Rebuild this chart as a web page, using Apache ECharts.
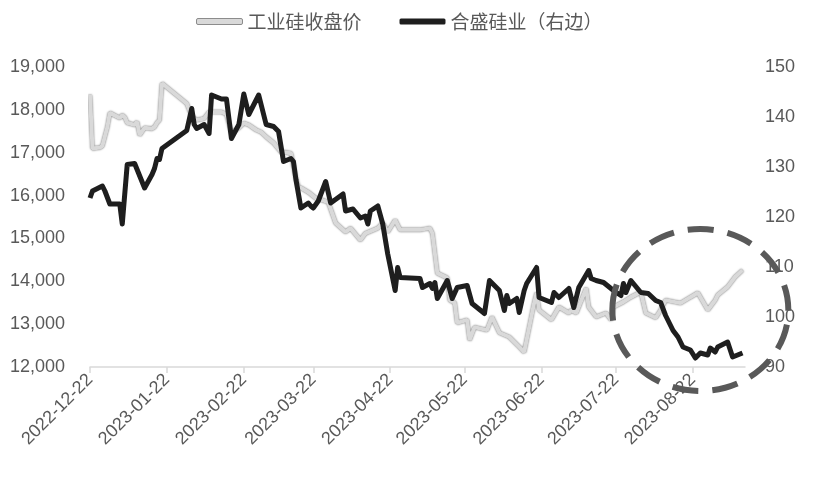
<!DOCTYPE html>
<html>
<head>
<meta charset="utf-8">
<script src="https://cdn.jsdelivr.net/npm/echarts@6/dist/echarts.min.js"></script>
<style>
html,body{margin:0;padding:0;background:#fff;}
#chart{width:813px;height:479px;}
</style>
</head>
<body>
<div id="chart"></div>
<script>
// ---- Data ----
const seriesNames = ['工业硅收盘价', '合盛硅业（右边）'];
const tickDates = ['2022-12-22','2023-01-22','2023-02-22','2023-03-22','2023-04-22','2023-05-22','2023-06-22','2023-07-22','2023-08-22'];
const axisStart = '2022-12-22';
const axisEnd = '2023-09-12';

const siliconDates = ['2022-12-22','2022-12-23','2022-12-26','2022-12-27','2022-12-29','2022-12-30','2023-01-03','2023-01-04','2023-01-05','2023-01-06','2023-01-09','2023-01-10','2023-01-11','2023-01-13','2023-01-16','2023-01-17','2023-01-18','2023-01-19','2023-01-20','2023-01-30','2023-01-31','2023-02-01','2023-02-03','2023-02-06','2023-02-08','2023-02-10','2023-02-13','2023-02-15','2023-02-17','2023-02-20','2023-02-22','2023-02-24','2023-02-27','2023-03-01','2023-03-03','2023-03-06','2023-03-09','2023-03-13','2023-03-15','2023-03-16','2023-03-17','2023-03-20','2023-03-23','2023-03-28','2023-03-31','2023-04-04','2023-04-06','2023-04-10','2023-04-12','2023-04-17','2023-04-19','2023-04-21','2023-04-24','2023-04-26','2023-05-04','2023-05-08','2023-05-09','2023-05-11','2023-05-15','2023-05-16','2023-05-18','2023-05-19','2023-05-23','2023-05-24','2023-05-26','2023-05-31','2023-06-02','2023-06-05','2023-06-09','2023-06-13','2023-06-15','2023-06-19','2023-06-20','2023-06-21','2023-06-26','2023-06-29','2023-07-03','2023-07-04','2023-07-06','2023-07-10','2023-07-11','2023-07-14','2023-07-18','2023-07-20','2023-07-21','2023-07-25','2023-07-28','2023-08-01','2023-08-03','2023-08-07','2023-08-09','2023-08-11','2023-08-17','2023-08-21','2023-08-24','2023-08-28','2023-08-31','2023-09-01','2023-09-05','2023-09-08','2023-09-11'];
const siliconPrice = [18350,17100,17120,17160,17600,17930,17810,17880,17830,17700,17650,17720,17410,17580,17560,17600,17700,17760,18620,18150,18000,17850,17760,17800,17950,17950,17950,17900,17460,17580,17690,17650,17530,17480,17370,17230,17020,16990,16400,16200,16180,16080,15940,15850,15360,15150,15240,14960,15120,15240,15360,15150,15430,15200,15200,15240,15120,14190,14080,13560,13500,13030,13100,12630,12930,12860,13170,12800,12700,12470,12350,13490,13730,13330,13100,13400,13260,13330,13260,13840,13400,13170,13260,13100,13400,13520,13630,13750,13260,13150,13330,13560,13490,13630,13730,13330,13560,13680,13870,14100,14260];

const hoshineDates = ['2022-12-22','2022-12-23','2022-12-27','2022-12-28','2022-12-30','2023-01-03','2023-01-04','2023-01-06','2023-01-09','2023-01-13','2023-01-16','2023-01-17','2023-01-18','2023-01-19','2023-01-20','2023-01-30','2023-02-01','2023-02-02','2023-02-03','2023-02-06','2023-02-08','2023-02-09','2023-02-13','2023-02-15','2023-02-17','2023-02-20','2023-02-22','2023-02-24','2023-02-28','2023-03-03','2023-03-06','2023-03-08','2023-03-10','2023-03-13','2023-03-14','2023-03-15','2023-03-17','2023-03-20','2023-03-21','2023-03-22','2023-03-24','2023-03-27','2023-03-29','2023-04-03','2023-04-04','2023-04-07','2023-04-10','2023-04-12','2023-04-13','2023-04-14','2023-04-17','2023-04-19','2023-04-21','2023-04-24','2023-04-25','2023-04-26','2023-05-04','2023-05-05','2023-05-08','2023-05-09','2023-05-10','2023-05-11','2023-05-15','2023-05-17','2023-05-19','2023-05-23','2023-05-25','2023-05-30','2023-06-01','2023-06-05','2023-06-07','2023-06-08','2023-06-09','2023-06-12','2023-06-13','2023-06-15','2023-06-16','2023-06-20','2023-06-21','2023-06-26','2023-06-27','2023-06-29','2023-07-03','2023-07-05','2023-07-07','2023-07-11','2023-07-12','2023-07-14','2023-07-17','2023-07-21','2023-07-24','2023-07-25','2023-07-26','2023-07-28','2023-08-01','2023-08-04','2023-08-07','2023-08-09','2023-08-11','2023-08-14','2023-08-16','2023-08-18','2023-08-21','2023-08-23','2023-08-25','2023-08-28','2023-08-29','2023-08-31','2023-09-01','2023-09-05','2023-09-07','2023-09-11'];
const hoshinePrice = [123.8,125.2,126.2,125.2,122.6,122.6,118.6,130.5,130.7,125.8,128.5,129.7,131.7,131.5,133.7,137.3,141.7,138.5,137.7,138.5,136.7,144.4,143.6,143.6,135.7,138.5,144.6,140.5,144.4,138.5,138.1,137.1,131.1,131.7,131.1,127.5,121.8,122.8,122.2,121.8,123.2,127.1,122.8,124.6,121.2,121.6,119.8,120.2,118.6,121.2,122.2,118.6,112.6,105.3,109.9,107.9,107.7,105.9,106.7,105.7,106.9,103.7,107.3,103.7,105.9,106.3,102.7,100.7,107.3,105.3,101.3,104.3,102.7,103.7,100.9,105.3,106.7,109.9,103.9,102.9,104.9,103.9,105.7,101.9,105.9,109.3,107.7,107.3,106.9,105.3,104.3,106.7,104.9,107.3,104.9,104.7,103.3,102.9,100.3,97.3,96.0,94.0,93.4,91.8,92.8,92.4,93.8,93.0,94.0,95.0,92.0,92.8];

// ---- Build chart ----
const toTs = s => { const p = s.split('-').map(Number); return new Date(p[0], p[1]-1, p[2]).getTime(); };
const siliconData = siliconDates.map((d, i) => [toTs(d), siliconPrice[i]]);
const hoshineData = hoshineDates.map((d, i) => [toTs(d), hoshinePrice[i]]);
const tickTs = tickDates.map(toTs);

const chart = echarts.init(document.getElementById('chart'), null, {renderer: 'canvas'});
const labelFont = {fontFamily: '"Liberation Sans", Arial, sans-serif', fontSize: 18, color: '#595959'};
const pad = n => (n < 10 ? '0' : '') + n;

chart.setOption({
  animation: false,
  backgroundColor: '#ffffff',
  grid: {left: 90, right: 68, top: 67, bottom: 112, containLabel: false},
  legend: {
    left: 191, top: 7,
    itemWidth: 46, itemHeight: 6, itemGap: 38,
    textStyle: {fontFamily: '"Noto Sans CJK SC", sans-serif', fontSize: 19, color: '#595959'},
    data: [
      {name: seriesNames[0], icon: 'roundRect', itemStyle: {color: '#d9d9d9', borderColor: '#8c8c8c', borderWidth: 1}},
      {name: seriesNames[1], icon: 'roundRect', itemStyle: {color: '#1e1e1e', borderWidth: 0}}
    ]
  },
  xAxis: {
    type: 'value',
    min: toTs(axisStart), max: toTs(axisEnd),
    axisLine: {show: true, lineStyle: {color: '#d9d9d9', width: 1.5}},
    axisTick: {show: true, length: 6, lineStyle: {color: '#d9d9d9', width: 1.5}, customValues: tickTs},
    axisLabel: {
      ...labelFont, rotate: 45, margin: 10, customValues: tickTs, showMinLabel: true, showMaxLabel: true,
      formatter: v => { const d = new Date(v); return d.getFullYear() + '-' + pad(d.getMonth()+1) + '-' + pad(d.getDate()); }
    },
    splitLine: {show: false}
  },
  yAxis: [
    {
      type: 'value', min: 12000, max: 19000, interval: 1000,
      axisLine: {show: false}, axisTick: {show: false}, splitLine: {show: false},
      axisLabel: {...labelFont, margin: 25, formatter: v => v.toLocaleString('en-US')}
    },
    {
      type: 'value', min: 90, max: 150, interval: 10, position: 'right',
      axisLine: {show: false}, axisTick: {show: false}, splitLine: {show: false},
      axisLabel: {...labelFont, margin: 20}
    }
  ],
  series: [
    {
      name: seriesNames[0], type: 'line', yAxisIndex: 0, data: siliconData,
      showSymbol: false, symbol: 'none', z: 2,
      lineStyle: {color: '#d9d9d9', width: 4, shadowColor: 'rgba(0,0,0,0.6)', shadowBlur: 2},
      itemStyle: {color: '#d9d9d9'}
    },
    {
      name: seriesNames[1], type: 'line', yAxisIndex: 1, data: hoshineData,
      showSymbol: false, symbol: 'none', z: 3,
      lineStyle: {color: '#1e1e1e', width: 5, join: 'round'},
      itemStyle: {color: '#1e1e1e'}
    }
  ]
});

// Dashed highlight ellipse around the late-August region
const c = chart.convertToPixel({xAxisIndex: 0, yAxisIndex: 0}, [toTs('2023-08-25'), 13330]);
chart.setOption({
  graphic: [{
    type: 'ellipse', z: 10,
    shape: {cx: c[0], cy: c[1], rx: 88, ry: 81},
    style: {fill: null, stroke: '#595959', lineWidth: 6, lineDash: [26, 14]}
  }]
});
</script>
</body>
</html>
